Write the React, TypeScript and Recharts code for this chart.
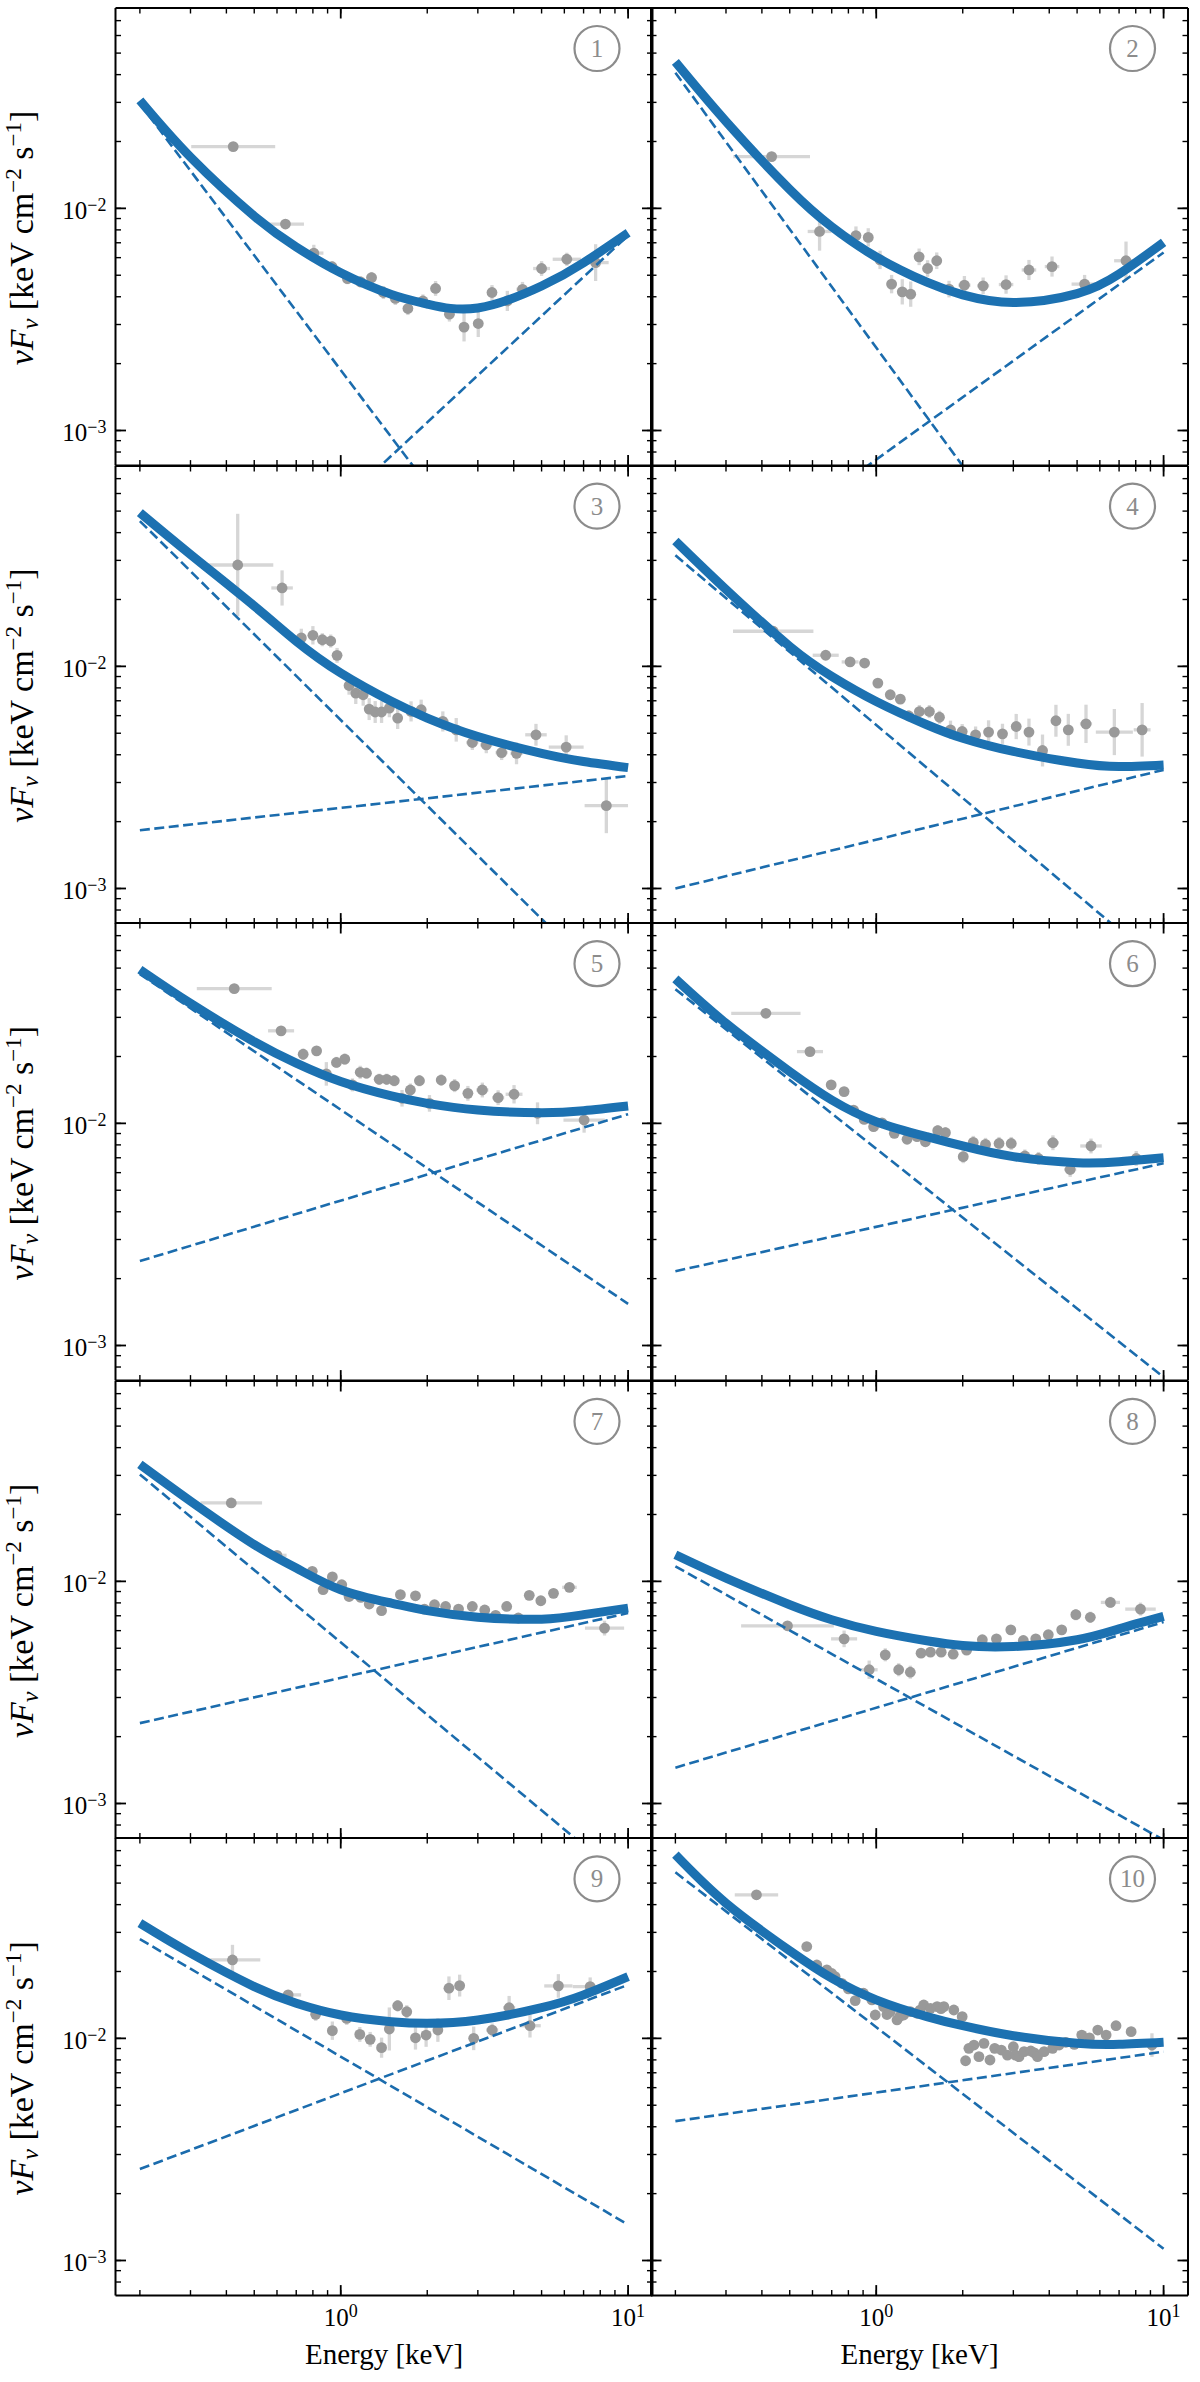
import { ComposedChart, Line, Scatter, ErrorBar, XAxis, YAxis } from "recharts";

// model curve (total), sampled along the thick line
const modelEnergies = [0.2, 0.3, 0.5, 0.7, 1, 1.5, 2, 3, 5, 7, 10];
const totalModel = [
  [0.0306, 0.017, 0.00923, 0.0067, 0.00513, 0.0041, 0.00371, 0.00356, 0.00447, 0.00569, 0.00776],
  [0.0456, 0.0246, 0.01216, 0.00826, 0.00604, 0.00465, 0.00408, 0.00377, 0.00413, 0.00506, 0.00703],
  [0.0492, 0.0319, 0.0187, 0.01297, 0.00933, 0.00696, 0.00585, 0.00483, 0.00406, 0.00373, 0.0035],
  [0.0367, 0.0222, 0.0123, 0.00902, 0.00695, 0.00546, 0.00475, 0.00414, 0.00367, 0.00354, 0.0036],
  [0.0492, 0.0347, 0.0233, 0.01866, 0.01542, 0.01328, 0.0123, 0.01148, 0.01117, 0.0114, 0.01197],
  [0.0447, 0.0282, 0.0171, 0.01274, 0.01017, 0.00871, 0.00791, 0.00708, 0.00665, 0.00672, 0.007],
  [0.0336, 0.02296, 0.01463, 0.01148, 0.00917, 0.00798, 0.00738, 0.0069, 0.00676, 0.00708, 0.00758],
  [0.01318, 0.01035, 0.00785, 0.00672, 0.00595, 0.0054, 0.00514, 0.00509, 0.00546, 0.00611, 0.00695],
  [0.033, 0.02418, 0.0171, 0.01439, 0.01274, 0.01189, 0.01169, 0.0121, 0.01374, 0.01569, 0.01897],
  [0.0671, 0.0406, 0.0248, 0.01866, 0.0149, 0.01253, 0.0114, 0.01028, 0.0095, 0.0094, 0.0096],
];

// power-law components (straight on log-log), values at 0.2 and 10 keV
const componentEnergies = [0.2, 10];
const softComponent = [
  [0.0296, 0.000036],
  [0.0408, 0.00004],
  [0.0451, 0.0003],
  [0.0316, 0.00044],
  [0.047, 0.00154],
  [0.0402, 0.00072],
  [0.0303, 0.00044],
  [0.01169, 0.000685],
  [0.02796, 0.00145],
  [0.0559, 0.00113],
];
const hardComponent = [
  [0.000068, 0.00755],
  [0.000165, 0.00633],
  [0.00183, 0.00321],
  [0.001, 0.00342],
  [0.0024, 0.011],
  [0.00216, 0.00661],
  [0.0023, 0.0072],
  [0.00145, 0.00656],
  [0.00258, 0.01742],
  [0.00424, 0.00871],
];

// data points: [energy, flux, x error factor, y error factor]
const spectrum1 = [
  [0.4225, 0.01897, 1.4, 1.04], [0.642, 0.0085, 1.16, 1.03], [0.806, 0.00629, 1.08, 1.09],
  [0.933, 0.00546, 1.04, 1.06], [1.055, 0.00483, 1.04, 1.06], [1.172, 0.00467, 1.04, 1.06],
  [1.28, 0.00488, 1.04, 1.06], [1.408, 0.00418, 1.04, 1.07], [1.549, 0.00393, 1.04, 1.07],
  [1.713, 0.00354, 1.04, 1.07], [1.932, 0.00383, 1.04, 1.07], [2.138, 0.00436, 1.04, 1.08],
  [2.389, 0.00334, 1.04, 1.08], [2.686, 0.00292, 1.04, 1.16], [3.01, 0.00303, 1.04, 1.15],
  [3.36, 0.00418, 1.04, 1.08], [3.8, 0.00383, 1.05, 1.11], [4.29, 0.00432, 1.05, 1.08],
  [5.0, 0.00536, 1.07, 1.08], [6.12, 0.0059, 1.12, 1.07], [7.71, 0.0057, 1.11, 1.21],
];
const spectrum2 = [
  [0.4325, 0.0171, 1.36, 1.05], [0.635, 0.00787, 1.1, 1.22], [0.85, 0.00754, 1.04, 1.1],
  [0.938, 0.0074, 1.04, 1.1], [1.031, 0.00586, 1.04, 1.1], [1.131, 0.00456, 1.04, 1.1],
  [1.232, 0.00421, 1.04, 1.14], [1.318, 0.00411, 1.04, 1.14], [1.41, 0.00605, 1.04, 1.09],
  [1.509, 0.00536, 1.04, 1.09], [1.624, 0.00581, 1.04, 1.09], [1.792, 0.00433, 1.04, 1.09],
  [2.027, 0.00451, 1.05, 1.1], [2.355, 0.00448, 1.05, 1.09], [2.83, 0.00454, 1.06, 1.1],
  [3.4, 0.00528, 1.06, 1.11], [4.09, 0.00547, 1.06, 1.11], [5.31, 0.00456, 1.11, 1.1],
  [7.4, 0.00581, 1.1, 1.22],
];
const spectrum3 = [
  [0.438, 0.0286, 1.33, 1.7], [0.625, 0.02254, 1.09, 1.2], [0.729, 0.01343, 1.04, 1.1],
  [0.8, 0.0138, 1.04, 1.1], [0.863, 0.01318, 1.03, 1.07], [0.923, 0.013, 1.03, 1.07],
  [0.971, 0.01121, 1.03, 1.08], [1.069, 0.0082, 1.03, 1.1], [1.128, 0.00758, 1.03, 1.12],
  [1.197, 0.00745, 1.03, 1.12], [1.256, 0.00642, 1.03, 1.12], [1.318, 0.00623, 1.03, 1.12],
  [1.387, 0.00623, 1.03, 1.12], [1.476, 0.00649, 1.03, 1.1], [1.578, 0.00585, 1.03, 1.12],
  [1.757, 0.00627, 1.04, 1.11], [1.905, 0.00638, 1.04, 1.11], [2.266, 0.00565, 1.05, 1.11],
  [2.523, 0.00518, 1.05, 1.13], [2.87, 0.00454, 1.05, 1.08], [3.21, 0.00443, 1.05, 1.09],
  [3.63, 0.00409, 1.05, 1.08], [4.09, 0.00406, 1.05, 1.12], [4.78, 0.00492, 1.09, 1.12],
  [6.09, 0.00433, 1.15, 1.13], [8.4, 0.00236, 1.19, 1.33],
];
const spectrum4 = [
  [0.438, 0.01439, 1.38, 1.03], [0.667, 0.01122, 1.11, 1.03], [0.811, 0.01047, 1.07, 1.03],
  [0.911, 0.01035, 1.03, 1.03], [1.013, 0.00841, 1.03, 1.04], [1.119, 0.00745, 1.03, 1.05],
  [1.213, 0.00712, 1.03, 1.05], [1.297, 0.00599, 1.03, 1.06], [1.413, 0.00626, 1.03, 1.07],
  [1.531, 0.00626, 1.03, 1.07], [1.66, 0.0059, 1.03, 1.07], [1.813, 0.00518, 1.04, 1.1],
  [1.991, 0.00509, 1.04, 1.08], [2.217, 0.00492, 1.04, 1.09], [2.46, 0.00506, 1.04, 1.13],
  [2.75, 0.00497, 1.04, 1.11], [3.07, 0.00536, 1.04, 1.14], [3.4, 0.00506, 1.04, 1.15],
  [3.79, 0.00418, 1.04, 1.18], [4.22, 0.00569, 1.04, 1.18], [4.66, 0.00518, 1.04, 1.18],
  [5.37, 0.00551, 1.05, 1.22], [6.74, 0.00506, 1.16, 1.27], [8.42, 0.00518, 1.07, 1.32],
];
const spectrum5 = [
  [0.426, 0.0404, 1.35, 1.05], [0.62, 0.0261, 1.11, 1.05], [0.74, 0.02047, 1.04, 1.06],
  [0.824, 0.0212, 1.04, 1.05], [0.891, 0.0167, 1.04, 1.13], [0.966, 0.0188, 1.03, 1.06],
  [1.033, 0.01946, 1.03, 1.06], [1.098, 0.0149, 1.03, 1.07], [1.169, 0.01698, 1.03, 1.07],
  [1.229, 0.01682, 1.03, 1.06], [1.361, 0.01579, 1.03, 1.06], [1.445, 0.01579, 1.03, 1.06],
  [1.536, 0.01556, 1.03, 1.06], [1.634, 0.01297, 1.04, 1.09], [1.747, 0.01413, 1.04, 1.07],
  [1.879, 0.01556, 1.04, 1.06], [2.036, 0.0123, 1.04, 1.09], [2.237, 0.01567, 1.04, 1.06],
  [2.49, 0.01479, 1.04, 1.07], [2.77, 0.01365, 1.04, 1.08], [3.11, 0.01413, 1.05, 1.08],
  [3.53, 0.01305, 1.05, 1.08], [4.01, 0.01352, 1.07, 1.1], [4.84, 0.0111, 1.05, 1.12],
  [7.03, 0.01035, 1.18, 1.14],
];
const spectrum6 = [
  [0.413, 0.0313, 1.32, 1.04], [0.588, 0.02104, 1.11, 1.04], [0.697, 0.0149, 1.03, 1.05],
  [0.773, 0.0139, 1.03, 1.05], [0.834, 0.01148, 1.03, 1.05], [0.908, 0.01042, 1.03, 1.05],
  [0.979, 0.00966, 1.03, 1.05], [1.047, 0.01006, 1.03, 1.05], [1.156, 0.00902, 1.03, 1.05],
  [1.28, 0.00848, 1.03, 1.05], [1.387, 0.00871, 1.03, 1.05], [1.483, 0.00826, 1.03, 1.05],
  [1.637, 0.00927, 1.03, 1.06], [1.741, 0.00908, 1.03, 1.06], [2.008, 0.00708, 1.04, 1.07],
  [2.176, 0.00821, 1.04, 1.07], [2.4, 0.00804, 1.04, 1.07], [2.675, 0.00812, 1.04, 1.07],
  [2.95, 0.00812, 1.04, 1.07], [3.29, 0.00713, 1.04, 1.07], [3.67, 0.00695, 1.04, 1.07],
  [4.12, 0.00818, 1.05, 1.08], [4.73, 0.0062, 1.05, 1.08], [5.59, 0.00791, 1.09, 1.08],
  [8.03, 0.00695, 1.12, 1.08],
];
const spectrum7 = [
  [0.416, 0.02254, 1.28, 1.03], [0.6, 0.0131, 1.08, 1.04], [0.796, 0.0111, 1.03, 1.04],
  [0.868, 0.00917, 1.03, 1.04], [0.935, 0.01047, 1.03, 1.04], [1.008, 0.00966, 1.03, 1.04],
  [1.069, 0.00855, 1.03, 1.04], [1.175, 0.00847, 1.03, 1.04], [1.256, 0.00791, 1.03, 1.04],
  [1.387, 0.00738, 1.03, 1.05], [1.613, 0.00871, 1.03, 1.05], [1.82, 0.00861, 1.03, 1.05],
  [1.955, 0.0075, 1.03, 1.05], [2.12, 0.00785, 1.03, 1.05], [2.317, 0.00771, 1.03, 1.05],
  [2.57, 0.0075, 1.03, 1.05], [2.87, 0.00771, 1.03, 1.05], [3.17, 0.00743, 1.03, 1.05],
  [3.46, 0.00703, 1.03, 1.05], [3.78, 0.00771, 1.03, 1.05], [4.15, 0.00684, 1.03, 1.05],
  [4.53, 0.00865, 1.03, 1.05], [4.97, 0.00818, 1.03, 1.05], [5.5, 0.00883, 1.03, 1.05],
  [6.25, 0.0094, 1.06, 1.05], [8.28, 0.00616, 1.17, 1.08],
];
const spectrum8 = [
  [0.491, 0.00631, 1.45, 1.03], [0.773, 0.00551, 1.11, 1.09], [0.945, 0.004, 1.07, 1.1],
  [1.075, 0.00467, 1.03, 1.07], [1.197, 0.004, 1.03, 1.07], [1.314, 0.0039, 1.03, 1.07],
  [1.432, 0.00475, 1.03, 1.04], [1.544, 0.0048, 1.03, 1.04], [1.683, 0.0048, 1.03, 1.04],
  [1.853, 0.0047, 1.03, 1.04], [2.063, 0.0049, 1.03, 1.04], [2.34, 0.00546, 1.03, 1.04],
  [2.62, 0.00551, 1.03, 1.04], [2.94, 0.00605, 1.03, 1.05], [3.25, 0.00542, 1.03, 1.05],
  [3.59, 0.00551, 1.03, 1.05], [3.97, 0.00575, 1.03, 1.05], [4.42, 0.00605, 1.03, 1.05],
  [4.95, 0.00708, 1.03, 1.06], [5.56, 0.00689, 1.03, 1.06], [6.53, 0.00804, 1.08, 1.06],
  [8.31, 0.0075, 1.13, 1.07],
];
const spectrum9 = [
  [0.42, 0.02254, 1.25, 1.17], [0.656, 0.01569, 1.11, 1.04], [0.818, 0.01283, 1.04, 1.07],
  [0.935, 0.01083, 1.03, 1.1], [1.049, 0.0123, 1.03, 1.07], [1.165, 0.01042, 1.03, 1.08],
  [1.266, 0.0099, 1.03, 1.08], [1.387, 0.00908, 1.03, 1.11], [1.476, 0.01102, 1.03, 1.25],
  [1.578, 0.01402, 1.03, 1.06], [1.697, 0.01318, 1.03, 1.07], [1.82, 0.01006, 1.03, 1.13],
  [1.982, 0.01035, 1.03, 1.13], [2.178, 0.0109, 1.04, 1.13], [2.38, 0.01682, 1.04, 1.13],
  [2.593, 0.01728, 1.04, 1.12], [2.902, 0.01, 1.04, 1.13], [3.365, 0.0109, 1.05, 1.07],
  [3.855, 0.01374, 1.05, 1.13], [4.556, 0.0114, 1.09, 1.13], [5.72, 0.01722, 1.12, 1.13],
  [7.38, 0.0171, 1.15, 1.1],
];
const spectrum10 = [
  [0.383, 0.0443, 1.19, 1.03], [0.573, 0.0259, 1.02, 1.04], [0.621, 0.0214, 1.02, 1.04],
  [0.673, 0.02033, 1.02, 1.04], [0.7, 0.0196, 1.02, 1.04], [0.719, 0.01897, 1.02, 1.04],
  [0.759, 0.0177, 1.02, 1.04], [0.8, 0.0167, 1.02, 1.04], [0.845, 0.01479, 1.02, 1.04],
  [0.903, 0.01596, 1.02, 1.04], [0.966, 0.0149, 1.02, 1.04], [0.992, 0.01274, 1.02, 1.04],
  [1.061, 0.0139, 1.02, 1.04], [1.09, 0.0128, 1.02, 1.04], [1.119, 0.0132, 1.02, 1.04],
  [1.181, 0.0121, 1.02, 1.04], [1.21, 0.0126, 1.02, 1.04], [1.246, 0.01274, 1.02, 1.04],
  [1.314, 0.0132, 1.02, 1.04], [1.387, 0.01297, 1.02, 1.04], [1.42, 0.0134, 1.02, 1.04],
  [1.463, 0.01414, 1.02, 1.04], [1.544, 0.01365, 1.02, 1.04], [1.629, 0.0139, 1.02, 1.04],
  [1.68, 0.0136, 1.02, 1.04], [1.719, 0.0139, 1.02, 1.04], [1.862, 0.01342, 1.02, 1.04],
  [1.991, 0.01252, 1.02, 1.04], [2.046, 0.00793, 1.02, 1.05], [2.101, 0.00902, 1.02, 1.05],
  [2.188, 0.00933, 1.02, 1.05], [2.277, 0.00827, 1.02, 1.05], [2.371, 0.0095, 1.02, 1.05],
  [2.488, 0.00799, 1.02, 1.05], [2.584, 0.00902, 1.02, 1.05], [2.725, 0.00886, 1.02, 1.05],
  [2.86, 0.00841, 1.02, 1.05], [3.0, 0.00917, 1.02, 1.05], [3.05, 0.0084, 1.02, 1.05],
  [3.14, 0.00827, 1.02, 1.05], [3.27, 0.00871, 1.02, 1.05], [3.45, 0.00877, 1.02, 1.05],
  [3.55, 0.0086, 1.02, 1.05], [3.64, 0.00827, 1.02, 1.05], [3.84, 0.00871, 1.02, 1.05],
  [4.11, 0.00902, 1.02, 1.05], [4.33, 0.00933, 1.02, 1.05], [4.57, 0.0096, 1.02, 1.05],
  [4.89, 0.0094, 1.02, 1.05], [5.19, 0.01035, 1.02, 1.05], [5.52, 0.01006, 1.02, 1.05],
  [5.9, 0.0109, 1.02, 1.05], [6.31, 0.01035, 1.02, 1.05], [6.83, 0.0114, 1.02, 1.05],
  [7.71, 0.01072, 1.04, 1.05], [9.11, 0.00933, 1.05, 1.13],
];
const spectra = [
  spectrum1, spectrum2, spectrum3, spectrum4, spectrum5,
  spectrum6, spectrum7, spectrum8, spectrum9, spectrum10,
];
const panelLabels = ["1", "2", "3", "4", "5", "6", "7", "8", "9", "10"];

const xTicks = [0.2, 0.3, 0.4, 0.5, 0.6, 0.7, 0.8, 0.9, 1, 2, 3, 4, 5, 6, 7, 8, 9, 10];
const yTicks = [
  0.0008, 0.0009, 0.001, 0.002, 0.003, 0.004, 0.005, 0.006, 0.007, 0.008, 0.009,
  0.01, 0.02, 0.03, 0.04, 0.05, 0.06, 0.07,
];
const X_DOMAIN = [0.1645, 12.16];
const Y_DOMAIN = [0.000695, 0.0798];

const PLOT_W = 537;
const PLOT_H = 457.6;
const ROW_TOP = 8;
const COL_LEFT = [115.5, 651];
const SERIF = "'Liberation Serif', 'DejaVu Serif', serif";
const SOLID = "#1c71b1";
const DASHED = "#1b6cad";
const AXIS_LINE = { stroke: "#000", strokeWidth: 2 };
const MINOR_LEN = 5.5;
const MAJOR_LEN = 10.5;

function isMajor(v: number) {
  const lg = Math.log10(v);
  return Math.abs(lg - Math.round(lg)) < 1e-6;
}

function exponent(v: number) {
  const e = Math.round(Math.log10(v));
  return e < 0 ? `\u2212${-e}` : `${e}`;
}

// the axis draws minor-length inward tick lines (negative tickSize);
// this renderer lengthens the decade ticks and writes their labels
function makeTick(side: string, withLabels: boolean) {
  return (props: any) => {
    const x = Number(props.x);
    const y = Number(props.y);
    const v = Number(props.payload.value);
    const major = isMajor(v);
    let line = null;
    let label = null;
    if (side === "bottom") {
      const ay = y + MINOR_LEN;
      if (major) line = <path d={`M${x},${ay}V${ay - MAJOR_LEN}`} stroke="#000" strokeWidth={1.8} fill="none" />;
      if (withLabels && major) {
        label = (
          <text x={x} y={ay + 30} textAnchor="middle" fontFamily={SERIF} fontSize={25} fill="#000">
            10<tspan fontSize={18} dy={-9}>{exponent(v)}</tspan>
          </text>
        );
      }
    } else if (side === "top") {
      const ay = y - MINOR_LEN;
      if (major) line = <path d={`M${x},${ay}V${ay + MAJOR_LEN}`} stroke="#000" strokeWidth={1.8} fill="none" />;
    } else if (side === "left") {
      const ax = x - MINOR_LEN;
      if (major) line = <path d={`M${ax},${y}H${ax + MAJOR_LEN}`} stroke="#000" strokeWidth={1.8} fill="none" />;
      if (withLabels && major) {
        label = (
          <text x={ax - 9} y={y + 10.5} textAnchor="end" fontFamily={SERIF} fontSize={25} fill="#000">
            10<tspan fontSize={18} dy={-8}>{exponent(v)}</tspan>
          </text>
        );
      }
    } else {
      const ax = x + MINOR_LEN;
      if (major) line = <path d={`M${ax},${y}H${ax - MAJOR_LEN}`} stroke="#000" strokeWidth={1.8} fill="none" />;
    }
    return (
      <g>
        {line}
        {label}
      </g>
    );
  };
}

function errOf(key: string) {
  return (d: any) => (d[key] !== undefined ? d[key] : d.payload ? d.payload[key] : 0);
}

function Panel({ index }: { index: number }) {
  const row = Math.floor(index / 2);
  const col = index % 2;
  const showY = col === 0;
  const showX = row === 4;
  const leftW = showY ? COL_LEFT[0] : 1;
  const bottomH = showX ? 80 : 1;
  const width = leftW + PLOT_W + 1;
  const height = 1 + PLOT_H + bottomH;
  const left = COL_LEFT[col] - leftW;
  const top = ROW_TOP + row * PLOT_H - 1;

  const model = modelEnergies.map((E, k) => ({ E, F: totalModel[index][k] }));
  const soft = componentEnergies.map((E, k) => ({ E, F: softComponent[index][k] }));
  const hard = componentEnergies.map((E, k) => ({ E, F: hardComponent[index][k] }));
  const points = spectra[index].map(([E, F, fx, fy]) => ({
    E,
    F,
    ex: [E - E / fx, E * fx - E],
    ey: [F - F / fy, F * fy - F],
  }));

  const common = {
    type: "number" as const,
    scale: "log" as const,
    allowDataOverflow: true,
    interval: 0,
    tickSize: -MINOR_LEN,
    tickMargin: 0,
    tickLine: { stroke: "#000", strokeWidth: 1.4 },
    axisLine: AXIS_LINE,
  };

  return (
    <div style={{ position: "absolute", left, top, width, height }}>
      <ComposedChart width={width} height={height} margin={{ top: 0, right: 0, bottom: 0, left: 0 }}>
        <XAxis xAxisId="b" dataKey="E" domain={X_DOMAIN} ticks={xTicks} height={bottomH}
          tick={makeTick("bottom", showX)} {...common} />
        <XAxis xAxisId="t" orientation="top" dataKey="E" domain={X_DOMAIN} ticks={xTicks} height={1}
          tick={makeTick("top", false)} {...common} />
        <YAxis yAxisId="l" dataKey="F" domain={Y_DOMAIN} ticks={yTicks} width={leftW}
          tick={makeTick("left", showY)} {...common} />
        <YAxis yAxisId="r" orientation="right" dataKey="F" domain={Y_DOMAIN} ticks={yTicks} width={1}
          tick={makeTick("right", false)} {...common} />
        <Scatter
          xAxisId="b"
          yAxisId="l"
          data={points}
          dataKey="F"
          isAnimationActive={false}
          zIndex={250}
          shape={() => <g />}
        >
          <ErrorBar dataKey={errOf("ex")} direction="x" width={0} stroke="#d6d6d6" strokeWidth={3.3} zIndex={250} />
          <ErrorBar dataKey={errOf("ey")} direction="y" width={0} stroke="#d6d6d6" strokeWidth={3.3} zIndex={250} />
        </Scatter>
        <Scatter
          xAxisId="b"
          yAxisId="l"
          data={points}
          dataKey="F"
          isAnimationActive={false}
          zIndex={300}
          shape={(p: any) => <circle cx={p.cx} cy={p.cy} r={5.4} fill="#999999" />}
        />
        <Line xAxisId="b" yAxisId="l" data={soft} dataKey="F" type="linear" stroke={DASHED}
          strokeWidth={2.6} strokeDasharray="10 4.5" dot={false} activeDot={false}
          isAnimationActive={false} zIndex={400} />
        <Line xAxisId="b" yAxisId="l" data={hard} dataKey="F" type="linear" stroke={DASHED}
          strokeWidth={2.6} strokeDasharray="10 4.5" dot={false} activeDot={false}
          isAnimationActive={false} zIndex={400} />
        <Line xAxisId="b" yAxisId="l" data={model} dataKey="F" type="natural" stroke={SOLID}
          strokeWidth={9} dot={false} activeDot={false} isAnimationActive={false} zIndex={410} />
      </ComposedChart>
    </div>
  );
}

function Overlay() {
  const rows = [0, 1, 2, 3, 4];
  return (
    <svg
      width={1200}
      height={2382}
      style={{ position: "absolute", left: 0, top: 0, pointerEvents: "none" }}
    >
      {rows.map((r) => {
        const cy = ROW_TOP + r * PLOT_H + 230;
        return (
          <text
            key={`yl-${r}`}
            transform={`translate(33, ${cy}) rotate(-90)`}
            textAnchor="middle"
            fontFamily={SERIF}
            fontSize={34}
            fill="#000"
          >
            <tspan fontStyle="italic">νF</tspan>
            <tspan fontStyle="italic" fontSize={24} dy={5}>ν</tspan>
            <tspan dy={-5}> [keV cm</tspan>
            <tspan fontSize={23} dy={-12}>−2</tspan>
            <tspan dy={12}> s</tspan>
            <tspan fontSize={23} dy={-12}>−1</tspan>
            <tspan dy={12}>]</tspan>
          </text>
        );
      })}
      {[0, 1].map((c) => (
        <text
          key={`xl-${c}`}
          x={COL_LEFT[c] + PLOT_W / 2}
          y={2364}
          textAnchor="middle"
          fontFamily={SERIF}
          fontSize={29}
          fill="#000"
        >
          Energy [keV]
        </text>
      ))}
      {panelLabels.map((lab, i) => {
        const row = Math.floor(i / 2);
        const col = i % 2;
        const cx = COL_LEFT[col] + PLOT_W - 55.5;
        const cy = ROW_TOP + row * PLOT_H + 40.5;
        return (
          <g key={`pl-${i}`}>
            <circle cx={cx} cy={cy} r={22.5} fill="none" stroke="#8c8c8c" strokeWidth={2.2} />
            <text
              x={cx}
              y={cy + 8.5}
              textAnchor="middle"
              fontFamily={SERIF}
              fontSize={25}
              fill="#8c8c8c"
            >
              {lab}
            </text>
          </g>
        );
      })}
    </svg>
  );
}

export default function App() {
  return (
    <div
      style={{
        position: "absolute",
        left: 0,
        top: 0,
        width: 1200,
        height: 2382,
        background: "#fff",
        overflow: "hidden",
      }}
    >
      {panelLabels.map((_, i) => (
        <Panel key={i} index={i} />
      ))}
      <Overlay />
    </div>
  );
}
